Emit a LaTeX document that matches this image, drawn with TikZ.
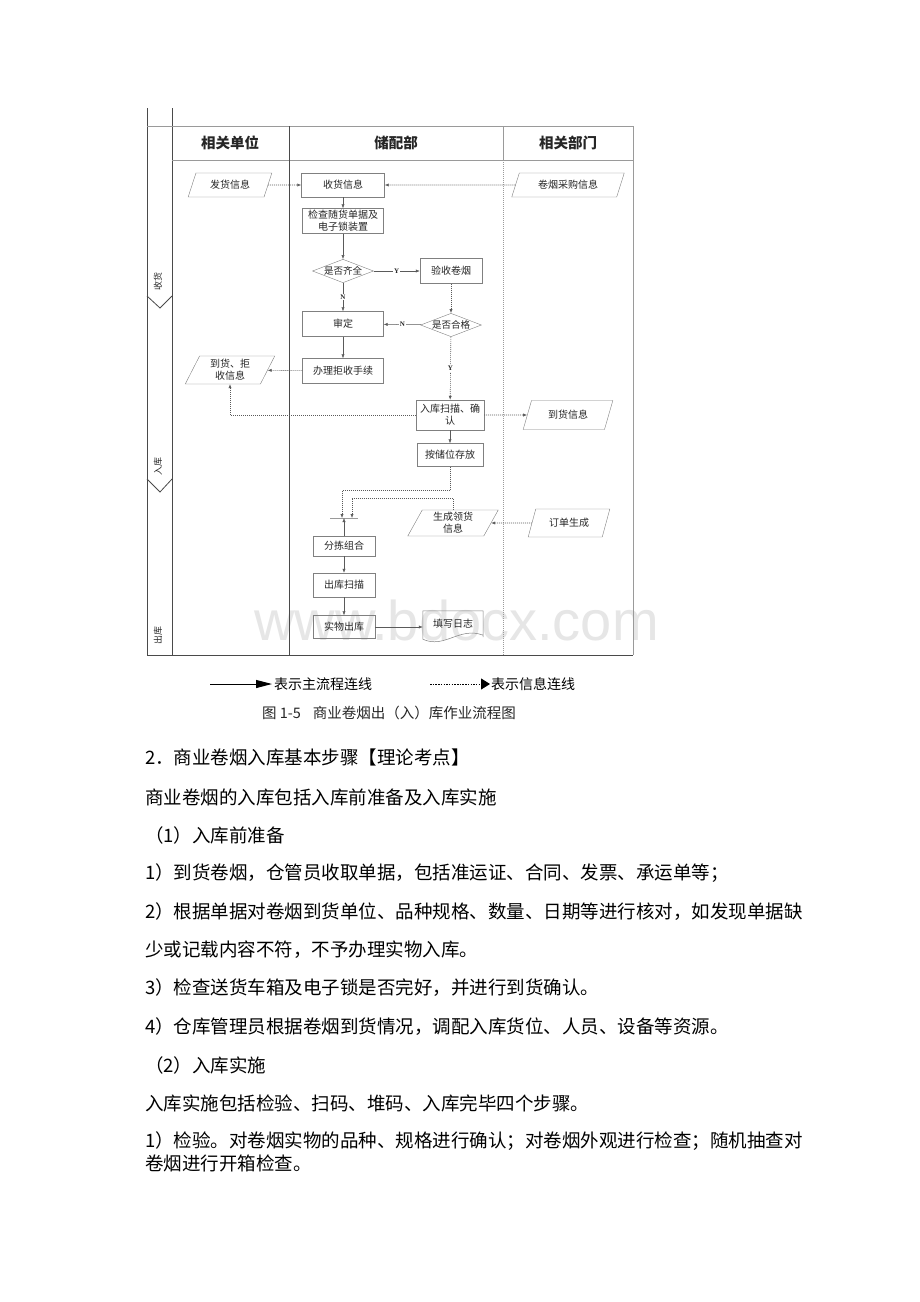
\documentclass[tikz,border=0pt]{standalone}
\usepackage{fontspec}
\setmainfont{Liberation Serif}
\newfontfamily\cjk{Noto Sans CJK SC}
\newfontfamily\wmfont{Liberation Sans}
\usetikzlibrary{shapes.geometric,arrows.meta,positioning,calc}
\definecolor{boxgray}{HTML}{808080}
\definecolor{lanedark}{HTML}{4A4A4A}
\definecolor{lanegray}{HTML}{9A9A9A}
\definecolor{flowgray}{HTML}{5A5A5A}
\definecolor{wmgray}{HTML}{E6E6E6}
\definecolor{inkgray}{HTML}{262626}
\tikzset{
  cell/.style={font=\cjk\fontsize{10}{12}\selectfont, text=inkgray, align=center},
  procbox/.style={cell, draw=boxgray, rectangle, minimum width=81pt, minimum height=25pt, inner sep=1pt},
  infobox/.style={cell, draw=boxgray, trapezium, trapezium left angle=67, trapezium right angle=113,
    trapezium stretches=true, minimum height=25pt, inner sep=1pt},
  decide/.style={cell, draw=boxgray, diamond, aspect=2.6, inner sep=0pt, font=\cjk\fontsize{9.5}{11}\selectfont},
  mainline/.style={draw=flowgray, line width=0.5pt, -{Latex[length=4pt,width=3.2pt]}},
  infoline/.style={draw=flowgray, line width=0.6pt, dash pattern=on 1pt off 1pt, -{Latex[length=4pt,width=3.2pt]}},
  yn/.style={midway, fill=white, inner sep=1pt, font=\bfseries\fontsize{7}{8}\selectfont, text=inkgray},
  lanehead/.style={font=\cjk\bfseries\fontsize{14.5}{16}\selectfont, text=inkgray},
  phase/.style={rotate=90, font=\cjk\fontsize{9}{10}\selectfont, text=inkgray},
  bodyline/.style={anchor=west, inner sep=0pt, font=\cjk\fontsize{18.5}{20}\selectfont},
}
\begin{document}
\begin{tikzpicture}[x=1pt,y=-1pt]
\useasboundingbox[fill=white] (0,0) rectangle (920,1302);
% watermark
\node[anchor=base west, inner sep=0pt, text=wmgray, font=\wmfont\fontsize{56}{60}\selectfont] (mark) at (254,640) {www.bdocx.com};
% swimlane frame
\draw[lanedark, line width=0.6pt] (147,108) -- (147,655) -- (633,655);
\draw[lanedark, line width=0.6pt] (172,108) -- (172,655);
\draw[lanegray, line width=0.6pt] (147,126) -- (633,126) -- (633,655);
\draw[lanegray, line width=0.5pt] (172,160) -- (633,160);
\draw[lanedark, line width=0.5pt] (289,126) -- (289,655);
\draw[lanegray, line width=0.5pt] (503,126) -- (503,160);
\draw[lanegray, line width=0.5pt, dash pattern=on 1pt off 1pt] (503,160) -- (503,655);
\node[lanehead] (hunit) at (230,143) {相关单位};
\node[lanehead] (hstore) at (396,143) {储配部};
\node[lanehead] (hdept) at (568,143) {相关部门};
% phases
\draw[lanedark, line width=0.8pt] (147,296) -- (160,308) -- (172,296);
\draw[lanedark, line width=0.8pt] (147,479) -- (160,492) -- (172,479);
\node[phase] (pshou) at (158,281) {收货};
\node[phase] (pru) at (158,466) {入库};
\node[phase] (pchu) at (158,635) {出库};
% receiving
\node[infobox, minimum width=84pt, minimum height=24pt] (fahuo) at (230,185) {发货信息};
\node[procbox, minimum width=83pt, minimum height=24pt] (shouhuo) at (343,185) {收货信息};
\node[infobox, minimum width=113pt, minimum height=24pt] (caigou) at (568,185) {卷烟采购信息};
\node[procbox] (jiancha) at (343,221) {检查随货单据及\\电子锁装置};
\node[decide] (qiquan) at (343,271) {是否齐全};
\node[procbox, minimum width=62pt] (yanshou) at (451,271) {验收卷烟};
\node[procbox] (shending) at (343,324) {审定};
\node[decide] (hege) at (451,325) {是否合格};
\node[procbox] (jushou) at (343,371) {办理拒收手续};
\node[infobox, minimum width=90pt, minimum height=28pt] (jushouinfo) at (230,370) {到货、拒\\收信息};
% storing
\node[procbox, minimum width=68pt, minimum height=30pt] (saomiao) at (450,415) {入库扫描、确\\认};
\node[infobox, minimum width=90pt, minimum height=29pt] (daohuo) at (568,415) {到货信息};
\node[procbox, minimum width=66pt, minimum height=23pt] (cunfang) at (450,455) {按储位存放};
% shipping
\coordinate (jL) at (330,518);
\coordinate (jR) at (358,518);
\coordinate (jA) at (342,518);
\coordinate (jB) at (352,518);
\node[infobox, minimum width=91pt, minimum height=26pt] (linghuo) at (453,523) {生成领货\\信息};
\node[infobox, minimum width=82pt, minimum height=28pt] (dingdan) at (569,523) {订单生成};
\node[procbox, minimum width=62pt, minimum height=20pt] (fenjian) at (344,546) {分拣组合};
\node[procbox, minimum width=62pt, minimum height=24pt] (chuku) at (344,585) {出库扫描};
\node[procbox, minimum width=62pt, minimum height=23pt] (shiwu) at (344,627) {实物出库};
\node[cell, minimum width=60pt, minimum height=26pt, inner sep=1pt] (rizhi) at (453,624) {填写日志};
\draw[boxgray, line width=0.5pt] (rizhi.south east) -- (rizhi.north east) -- (rizhi.north west) -- ($(rizhi.south west)+(0,2)$)
  .. controls +(22,10) and +(-24,-9) .. ($(rizhi.south east)+(0,-2)$);
% connectors
\draw[infoline] (fahuo) -- (shouhuo);
\draw[infoline] (caigou) -- (shouhuo);
\draw[mainline] (shouhuo) -- (jiancha);
\draw[mainline] (jiancha) -- (qiquan);
\draw[mainline] (qiquan) -- node[yn] {Y} (yanshou);
\draw[mainline] (qiquan) -- node[yn] {N} (shending);
\draw[infoline] (yanshou) -- (hege);
\draw[mainline] (hege) -- node[yn] {N} (shending);
\draw[infoline] (hege) -- node[yn] {Y} (saomiao);
\draw[mainline] (shending) -- (jushou);
\draw[infoline] (jushou) -- (jushouinfo);
\draw[infoline] (saomiao.west) -| (jushouinfo.south);
\draw[infoline] (saomiao) -- (daohuo);
\draw[mainline] (saomiao) -- (cunfang);
\draw[lanegray, line width=0.5pt] (jL) -- (jR);
\draw[infoline] (cunfang.south) -- ++(0,24) -| (jA);
\draw[infoline] (linghuo.north) -- ++(0,-12) -| (jB);
\draw[infoline] (dingdan) -- (linghuo);
\draw[mainline] (fenjian.north) -- (fenjian.north |- jL);
\draw[mainline] (fenjian) -- (chuku);
\draw[mainline] (chuku) -- (shiwu);
\draw[mainline] (shiwu.east) -- (shiwu.east -| rizhi.west);
% legend
\coordinate (solidA) at (210,684);
\coordinate (solidB) at (272,684);
\coordinate (dotA) at (430,684);
\coordinate (dotB) at (490,684);
\draw[black, line width=1pt, -{Triangle[length=16pt,width=8pt]}] (solidA) -- (solidB);
\node[anchor=west, inner sep=2pt, font=\cjk\fontsize{14}{16}\selectfont] (mainkey) at (solidB) {表示主流程连线};
\draw[black, line width=1pt, dash pattern=on 1.5pt off 1.2pt, -{Triangle[length=9pt,width=11pt]}] (dotA) -- (dotB);
\node[anchor=west, inner sep=1pt, font=\cjk\fontsize{14}{16}\selectfont] (infokey) at (dotB) {表示信息连线};
\node[font=\cjk\fontsize{14.5}{16}\selectfont, text=inkgray] (caption) at (389,713) {图 1-5\hspace{12pt}商业卷烟出（入）库作业流程图};
% body text
\foreach \y/\txt [count=\i] in {
  757/{2．商业卷烟入库基本步骤【理论考点】},
  797/{商业卷烟的入库包括入库前准备及入库实施},
  835/{（1）入库前准备},
  873/{1）到货卷烟，仓管员收取单据，包括准运证、合同、发票、承运单等；},
  912/{2）根据单据对卷烟到货单位、品种规格、数量、日期等进行核对，如发现单据缺},
  950/{少或记载内容不符，不予办理实物入库。},
  988/{3）检查送货车箱及电子锁是否完好，并进行到货确认。},
  1027/{4）仓库管理员根据卷烟到货情况，调配入库货位、人员、设备等资源。},
  1065/{（2）入库实施},
  1103/{入库实施包括检验、扫码、堆码、入库完毕四个步骤。},
  1141/{1）检验。对卷烟实物的品种、规格进行确认；对卷烟外观进行检查；随机抽查对},
  1163/{卷烟进行开箱检查。}}
  \node[bodyline] (line\i) at (145,\y) {\txt};
\end{tikzpicture}
\end{document}
